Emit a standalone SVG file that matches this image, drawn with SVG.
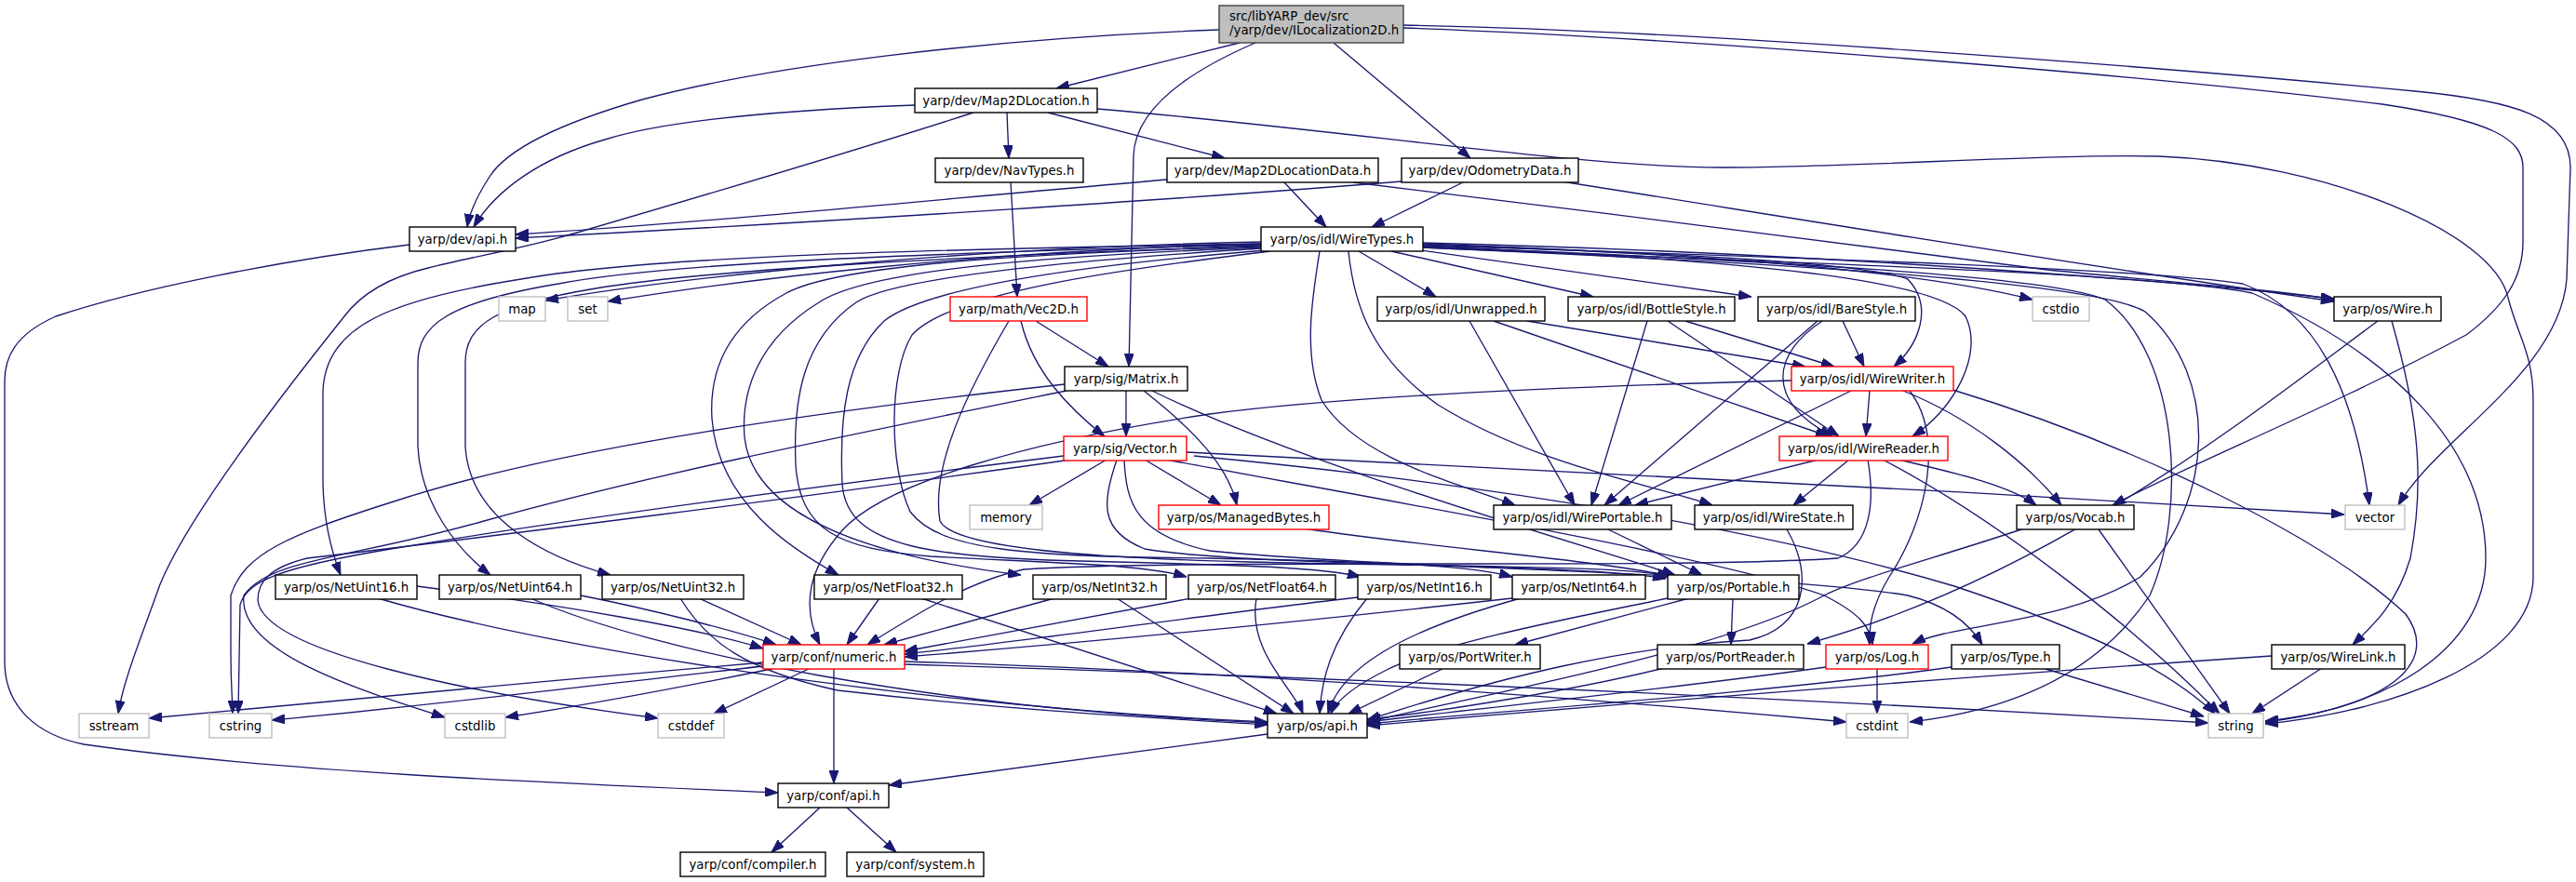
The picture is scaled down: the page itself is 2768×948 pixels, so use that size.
<svg xmlns="http://www.w3.org/2000/svg" width="2768" height="948" viewBox="0 0 2768 948">
<style>
.n rect{fill:#fff;stroke:#000;stroke-width:1.4}
.r rect{stroke:#ff0000}
.g rect{stroke:#bfbfbf}
.root rect{fill:#bfbfbf;stroke:#404040}
text{font-family:"DejaVu Sans","Liberation Sans",sans-serif;font-size:13.33px;fill:#000;text-anchor:middle}
.root text{text-anchor:start}
#edges path{fill:none;stroke:#191970;stroke-width:1.33;marker-end:url(#ah)}
</style>
<defs>
<marker id="ah" viewBox="0 0 14 10" refX="14" refY="5" markerWidth="14" markerHeight="10" markerUnits="userSpaceOnUse" orient="auto"><path d="M0,0 L14,5 L0,10 z" fill="#191970" stroke="#191970" stroke-width="1"/></marker>
</defs>
<rect x="0" y="0" width="2768" height="948" fill="#fff"/>
<g id="edges">
<path d="M1310,32 C1050,42 820,72 690,107 C600,133 545,160 526,190 C513,210 505,226 502,244"/>
<path d="M1332,46 L1135,95"/>
<path d="M1349,46 C1270,80 1219,120 1218,168 L1213,394"/>
<path d="M1433,46 L1580,170"/>
<path d="M1508,27 C1800,32 2300,70 2595,98 C2700,108 2762,125 2762,180 L2758,300 C2750,400 2620,470 2577,543"/>
<path d="M1508,30 C1800,40 2300,80 2560,112 C2680,130 2711,150 2711,180 L2711,260 C2711,300 2690,330 2650,360 C2500,440 2350,500 2270,543"/>
<path d="M983,113 C850,118 720,128 650,150 C580,170 532,205 509,244"/>
<path d="M1046,121 C900,168 750,212 620,250 C560,268 510,275 460,288 C410,300 385,320 370,340 C290,440 200,560 172,628 C150,690 133,730 127,767"/>
<path d="M1082,121 L1084,170"/>
<path d="M1126,121 L1316,170"/>
<path d="M1179,117 C1450,140 1700,180 1850,180 C2000,180 2200,165 2320,168 C2500,175 2680,250 2695,320 C2705,360 2722,380 2722,430 L2722,620 C2722,710 2570,765 2434,778"/>
<path d="M1086,195 L1093,319"/>
<path d="M1254,193 C1000,215 750,240 554,252"/>
<path d="M1379,195 L1425,244"/>
<path d="M1454,196 C1700,225 2000,265 2200,290 C2350,305 2450,312 2508,322"/>
<path d="M1506,195 C1300,212 900,238 554,256"/>
<path d="M1574,195 L1474,244"/>
<path d="M1678,195 C1900,230 2200,280 2508,324"/>
<path d="M440,263 C300,280 150,310 60,340 C15,360 5,385 5,410 L5,711 C5,760 40,790 90,800 C300,830 600,842 836,852"/>
<path d="M1355,260 C1050,266 750,295 586,323"/>
<path d="M1355,262 C1050,270 800,300 653,324"/>
<path d="M1355,262 C1000,268 700,275 560,300 C420,322 350,350 347,420 L347,520 C348,560 355,590 366,618"/>
<path d="M1355,263 C1000,272 720,282 600,305 C480,325 449,350 449,390 L449,480 C452,540 490,590 527,618"/>
<path d="M1355,264 C1020,276 760,290 640,310 C530,328 500,350 500,390 L500,480 C505,560 590,600 656,618"/>
<path d="M1355,265 C1100,272 900,285 845,315 C780,350 762,400 765,450 C772,540 850,590 901,618"/>
<path d="M1355,266 C1100,276 930,292 880,325 C815,365 796,420 800,470 C810,560 950,600 1097,618"/>
<path d="M1355,267 C1150,280 960,298 920,325 C862,365 852,430 855,500 C860,570 900,590 1000,598 C1150,606 1230,607 1275,620"/>
<path d="M1360,269 C1200,282 1000,305 950,345 C908,385 902,450 905,520 C910,590 1000,600 1200,604 C1350,608 1420,610 1462,620"/>
<path d="M1365,270 C1200,290 1020,315 980,360 C955,400 955,500 978,550 C1010,592 1100,598 1300,600 C1500,604 1580,608 1625,620"/>
<path d="M1460,270 L1543,319"/>
<path d="M1495,270 L1712,319"/>
<path d="M1520,268 L1882,319"/>
<path d="M1529,263 C1800,272 2000,282 2050,300 C2078,330 2062,370 2035,394"/>
<path d="M1529,265 C1850,278 2080,298 2112,340 C2132,380 2100,440 2055,469"/>
<path d="M1418,270 C1410,320 1400,380 1420,430 C1460,495 1570,520 1628,543"/>
<path d="M1449,270 C1455,330 1475,385 1545,435 C1650,500 1780,522 1840,543"/>
<path d="M1529,262 C1800,272 2050,288 2184,322"/>
<path d="M1529,261 C1900,270 2300,298 2508,321"/>
<path d="M1529,264 C1900,276 2300,288 2410,305 C2490,335 2530,420 2546,543"/>
<path d="M1529,266 C1900,282 2300,292 2420,315 C2570,380 2671,480 2671,600 C2671,700 2560,762 2434,776"/>
<path d="M1529,265 C1900,280 2200,296 2262,322 C2342,382 2350,550 2310,640 C2250,730 2150,765 2052,776"/>
<path d="M1529,266 C1900,282 2250,302 2305,335 C2385,405 2380,540 2300,620 C2220,670 2100,670 2055,692"/>
<path d="M1113,345 L1191,394"/>
<path d="M1097,345 C1110,400 1150,440 1187,469"/>
<path d="M1084,345 C1040,420 1000,500 1010,560 C1030,600 1300,604 1500,607 C1700,610 1765,612 1795,620"/>
<path d="M1210,419 L1210,469"/>
<path d="M1229,420 C1280,460 1320,500 1329,543"/>
<path d="M1238,420 C1400,500 1700,585 1800,618"/>
<path d="M1144,413 C900,440 600,480 420,540 C310,575 262,595 248,640 L248,700 C248,740 250,755 250,767"/>
<path d="M1146,420 C900,470 700,510 520,560 C380,600 290,600 262,640 C255,700 380,740 478,771"/>
<path d="M1143,490 C900,520 600,560 420,590 C300,610 265,625 258,650 L256,767"/>
<path d="M1151,494 C900,530 500,580 330,600 C290,610 277,625 277,645 C282,700 500,745 707,772"/>
<path d="M1189,494 L1106,543"/>
<path d="M1230,494 L1312,543"/>
<path d="M1275,486 C1600,500 2100,528 2519,553"/>
<path d="M1200,494 C1185,540 1180,570 1230,590 C1350,610 1700,605 1790,622"/>
<path d="M1208,494 C1210,540 1220,575 1300,592 C1500,612 1900,615 2050,640 C2090,650 2115,668 2130,693"/>
<path d="M1283,490 C1600,520 1900,570 2100,630 C2250,680 2330,720 2380,767"/>
<path d="M1253,494 C1500,540 1850,600 1960,640 C2000,660 2010,675 2012,693"/>
<path d="M1400,568 C1550,590 1700,600 1795,619"/>
<path d="M1925,409 C1700,415 1450,425 1300,445 C1100,475 950,520 905,570 C870,610 860,650 881,693"/>
<path d="M1989,420 L1739,543"/>
<path d="M2009,420 L2005,469"/>
<path d="M2045,420 C2120,450 2180,500 2215,543"/>
<path d="M2095,418 C2300,480 2500,580 2585,660 C2625,715 2560,762 2434,775"/>
<path d="M2052,420 C2090,470 2070,560 2030,620 C2012,650 2008,672 2009,693"/>
<path d="M1954,494 L1757,543"/>
<path d="M1987,494 L1927,543"/>
<path d="M2040,494 C2100,508 2160,522 2188,543"/>
<path d="M2023,494 C2150,560 2300,680 2385,767"/>
<path d="M2007,494 C2015,540 2010,585 1975,600 C1800,612 1300,600 1100,612 C1040,625 985,660 932,693"/>
<path d="M2175,568 C2080,600 2000,620 1960,640 C1850,700 1600,745 1469,776"/>
<path d="M2255,569 L2396,767"/>
<path d="M1920,569 C1950,620 1940,675 1880,688 C1750,695 1620,725 1469,774"/>
<path d="M1728,569 L1829,618"/>
<path d="M1579,345 L1692,543"/>
<path d="M1605,345 L1965,469"/>
<path d="M1641,345 L1940,394"/>
<path d="M1770,345 L1710,543"/>
<path d="M1792,345 L1976,469"/>
<path d="M1811,345 L1971,394"/>
<path d="M1958,345 C1905,380 1895,430 1969,469"/>
<path d="M1953,345 L1724,543"/>
<path d="M1980,345 L2003,394"/>
<path d="M2555,345 C2400,460 2200,620 1942,692"/>
<path d="M2570,345 C2600,450 2605,520 2590,600 C2575,650 2550,672 2528,693"/>
<path d="M1815,643 L1628,693"/>
<path d="M1862,643 L1860,693"/>
<path d="M1792,643 C1700,662 1550,690 1490,720 C1450,740 1435,755 1430,767"/>
<path d="M1552,718 L1449,767"/>
<path d="M1788,718 C1700,740 1550,765 1469,773"/>
<path d="M1962,717 C1800,740 1600,760 1469,776"/>
<path d="M2017,718 L2017,767"/>
<path d="M2097,717 C1900,745 1600,765 1469,778"/>
<path d="M2195,718 L2368,770"/>
<path d="M2441,705 C2100,728 1700,760 1469,780"/>
<path d="M2495,718 L2420,767"/>
<path d="M1362,789 L955,844"/>
<path d="M820,712 C600,730 350,755 160,772"/>
<path d="M820,716 C650,735 450,760 292,774"/>
<path d="M834,718 C750,735 650,755 543,771"/>
<path d="M871,718 L767,767"/>
<path d="M896,718 L896,842"/>
<path d="M972,711 C1300,720 1700,750 1984,776"/>
<path d="M972,714 C1500,730 2000,755 2373,777"/>
<path d="M881,868 L829,916"/>
<path d="M910,868 L963,916"/>
<path d="M448,630 C600,650 750,675 820,697"/>
<path d="M406,643 C600,700 1000,760 1362,776"/>
<path d="M624,640 C700,655 790,678 834,693"/>
<path d="M570,643 C700,700 1000,762 1362,777"/>
<path d="M751,643 L861,693"/>
<path d="M731,643 C760,690 800,720 900,742 C1100,765 1250,772 1362,779"/>
<path d="M945,643 L910,693"/>
<path d="M990,643 L1372,767"/>
<path d="M1133,643 L950,693"/>
<path d="M1200,643 L1390,767"/>
<path d="M1280,643 L972,700"/>
<path d="M1350,643 C1340,700 1390,740 1400,767"/>
<path d="M1459,642 C1300,660 1100,690 972,703"/>
<path d="M1469,643 C1430,690 1420,730 1418,767"/>
<path d="M1625,643 C1400,668 1150,692 972,706"/>
<path d="M1634,643 C1500,680 1440,720 1427,767"/>
</g>
<g id="n_root" class="n root"><rect x="1310" y="6" width="198" height="40"/><text x="1321" y="22">src/libYARP_dev/src</text><text x="1321" y="37">/yarp/dev/ILocalization2D.h</text></g>
<g id="n_map2dloc" class="n"><rect x="983" y="95" width="196" height="26"/><text x="1081" y="113">yarp/dev/Map2DLocation.h</text></g>
<g id="n_navtypes" class="n"><rect x="1005" y="170" width="159" height="26"/><text x="1084.5" y="188">yarp/dev/NavTypes.h</text></g>
<g id="n_map2dlocdata" class="n"><rect x="1254" y="170" width="227" height="26"/><text x="1367.5" y="188">yarp/dev/Map2DLocationData.h</text></g>
<g id="n_odom" class="n"><rect x="1506" y="170" width="190" height="26"/><text x="1601" y="188">yarp/dev/OdometryData.h</text></g>
<g id="n_devapi" class="n"><rect x="440" y="244" width="114" height="26"/><text x="497" y="262">yarp/dev/api.h</text></g>
<g id="n_wiretypes" class="n"><rect x="1355" y="244" width="174" height="26"/><text x="1442" y="262">yarp/os/idl/WireTypes.h</text></g>
<g id="n_map" class="n g"><rect x="536" y="319" width="50" height="26"/><text x="561" y="337">map</text></g>
<g id="n_set" class="n g"><rect x="610" y="319" width="43" height="26"/><text x="631.5" y="337">set</text></g>
<g id="n_vec2d" class="n r"><rect x="1021" y="319" width="147" height="26"/><text x="1094.5" y="337">yarp/math/Vec2D.h</text></g>
<g id="n_unwrapped" class="n"><rect x="1480" y="319" width="180" height="26"/><text x="1570" y="337">yarp/os/idl/Unwrapped.h</text></g>
<g id="n_bottlestyle" class="n"><rect x="1685" y="319" width="179" height="26"/><text x="1774.5" y="337">yarp/os/idl/BottleStyle.h</text></g>
<g id="n_barestyle" class="n"><rect x="1889" y="319" width="169" height="26"/><text x="1973.5" y="337">yarp/os/idl/BareStyle.h</text></g>
<g id="n_cstdio" class="n g"><rect x="2184" y="319" width="61" height="26"/><text x="2214.5" y="337">cstdio</text></g>
<g id="n_wire" class="n"><rect x="2508" y="319" width="115" height="26"/><text x="2565.5" y="337">yarp/os/Wire.h</text></g>
<g id="n_matrix" class="n"><rect x="1144" y="394" width="132" height="26"/><text x="1210" y="412">yarp/sig/Matrix.h</text></g>
<g id="n_wirewriter" class="n r"><rect x="1925" y="394" width="174" height="26"/><text x="2012" y="412">yarp/os/idl/WireWriter.h</text></g>
<g id="n_vector" class="n r"><rect x="1143" y="469" width="132" height="26"/><text x="1209" y="487">yarp/sig/Vector.h</text></g>
<g id="n_wirereader" class="n r"><rect x="1912" y="469" width="181" height="26"/><text x="2002.5" y="487">yarp/os/idl/WireReader.h</text></g>
<g id="n_memory" class="n g"><rect x="1042" y="543" width="78" height="26"/><text x="1081" y="561">memory</text></g>
<g id="n_managedbytes" class="n r"><rect x="1245" y="543" width="183" height="26"/><text x="1336.5" y="561">yarp/os/ManagedBytes.h</text></g>
<g id="n_wireportable" class="n"><rect x="1605" y="543" width="191" height="26"/><text x="1700.5" y="561">yarp/os/idl/WirePortable.h</text></g>
<g id="n_wirestate" class="n"><rect x="1821" y="543" width="170" height="26"/><text x="1906" y="561">yarp/os/idl/WireState.h</text></g>
<g id="n_vocab" class="n"><rect x="2167" y="543" width="126" height="26"/><text x="2230" y="561">yarp/os/Vocab.h</text></g>
<g id="n_stdvector" class="n g"><rect x="2520" y="543" width="64" height="26"/><text x="2552" y="561">vector</text></g>
<g id="n_netuint16" class="n"><rect x="296" y="618" width="152" height="26"/><text x="372" y="636">yarp/os/NetUint16.h</text></g>
<g id="n_netuint64" class="n"><rect x="472" y="618" width="152" height="26"/><text x="548" y="636">yarp/os/NetUint64.h</text></g>
<g id="n_netuint32" class="n"><rect x="647" y="618" width="152" height="26"/><text x="723" y="636">yarp/os/NetUint32.h</text></g>
<g id="n_netfloat32" class="n"><rect x="875" y="618" width="159" height="26"/><text x="954.5" y="636">yarp/os/NetFloat32.h</text></g>
<g id="n_netint32" class="n"><rect x="1110" y="618" width="143" height="26"/><text x="1181.5" y="636">yarp/os/NetInt32.h</text></g>
<g id="n_netfloat64" class="n"><rect x="1277" y="618" width="158" height="26"/><text x="1356" y="636">yarp/os/NetFloat64.h</text></g>
<g id="n_netint16" class="n"><rect x="1459" y="618" width="143" height="26"/><text x="1530.5" y="636">yarp/os/NetInt16.h</text></g>
<g id="n_netint64" class="n"><rect x="1625" y="618" width="143" height="26"/><text x="1696.5" y="636">yarp/os/NetInt64.h</text></g>
<g id="n_portable" class="n"><rect x="1792" y="618" width="141" height="26"/><text x="1862.5" y="636">yarp/os/Portable.h</text></g>
<g id="n_numeric" class="n r"><rect x="820" y="693" width="152" height="26"/><text x="896" y="711">yarp/conf/numeric.h</text></g>
<g id="n_portwriter" class="n"><rect x="1504" y="693" width="151" height="26"/><text x="1579.5" y="711">yarp/os/PortWriter.h</text></g>
<g id="n_portreader" class="n"><rect x="1781" y="693" width="157" height="26"/><text x="1859.5" y="711">yarp/os/PortReader.h</text></g>
<g id="n_log" class="n r"><rect x="1962" y="693" width="110" height="26"/><text x="2017" y="711">yarp/os/Log.h</text></g>
<g id="n_type" class="n"><rect x="2097" y="693" width="116" height="26"/><text x="2155" y="711">yarp/os/Type.h</text></g>
<g id="n_wirelink" class="n"><rect x="2441" y="693" width="143" height="26"/><text x="2512.5" y="711">yarp/os/WireLink.h</text></g>
<g id="n_sstream" class="n g"><rect x="85" y="767" width="75" height="26"/><text x="122.5" y="785">sstream</text></g>
<g id="n_cstring" class="n g"><rect x="225" y="767" width="67" height="26"/><text x="258.5" y="785">cstring</text></g>
<g id="n_cstdlib" class="n g"><rect x="478" y="767" width="65" height="26"/><text x="510.5" y="785">cstdlib</text></g>
<g id="n_cstddef" class="n g"><rect x="707" y="767" width="71" height="26"/><text x="742.5" y="785">cstddef</text></g>
<g id="n_osapi" class="n"><rect x="1362" y="767" width="107" height="26"/><text x="1415.5" y="785">yarp/os/api.h</text></g>
<g id="n_cstdint" class="n g"><rect x="1984" y="767" width="66" height="26"/><text x="2017" y="785">cstdint</text></g>
<g id="n_string" class="n g"><rect x="2373" y="767" width="59" height="26"/><text x="2402.5" y="785">string</text></g>
<g id="n_confapi" class="n"><rect x="836" y="842" width="119" height="26"/><text x="895.5" y="860">yarp/conf/api.h</text></g>
<g id="n_compiler" class="n"><rect x="731" y="916" width="156" height="26"/><text x="809" y="934">yarp/conf/compiler.h</text></g>
<g id="n_system" class="n"><rect x="910" y="916" width="147" height="26"/><text x="983.5" y="934">yarp/conf/system.h</text></g>
</svg>
